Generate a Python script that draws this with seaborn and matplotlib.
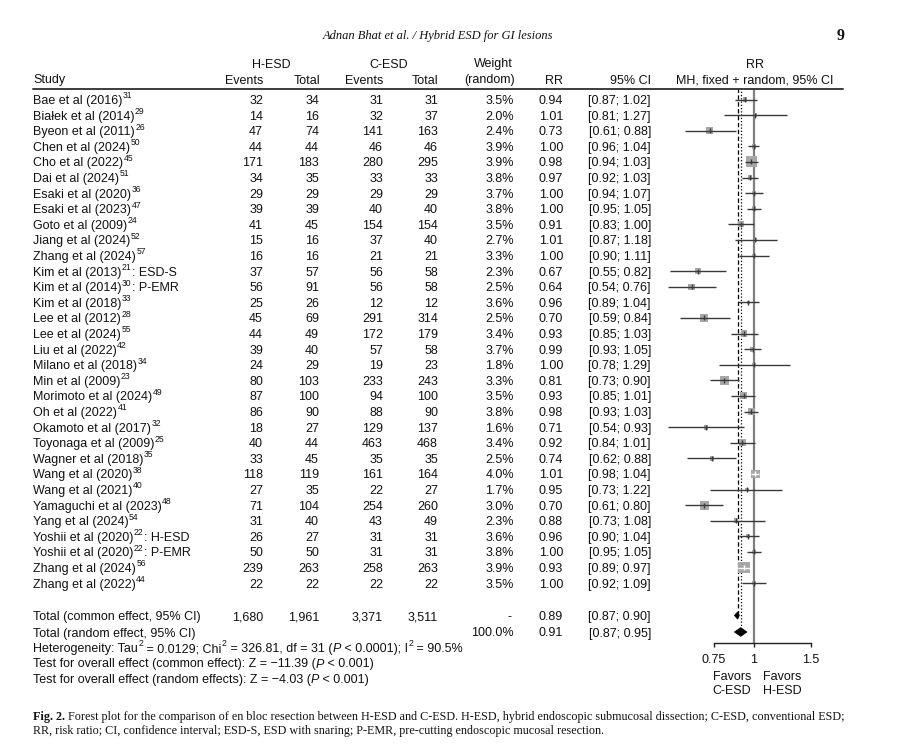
import numpy as np
import pandas as pd
import matplotlib
matplotlib.use("Agg")
import matplotlib.pyplot as plt
import seaborn as sns
from matplotlib.lines import Line2D
from matplotlib.patches import Polygon
from matplotlib.ticker import NullLocator, FixedLocator, FixedFormatter

# ---------------- data ----------------
studies = ["Bae et al (2016)", "Białek et al (2014)", "Byeon et al (2011)", "Chen et al (2024)",
           "Cho et al (2022)", "Dai et al (2024)", "Esaki et al (2020)", "Esaki et al (2023)",
           "Goto et al (2009)", "Jiang et al (2024)", "Zhang et al (2024)", "Kim et al (2013)",
           "Kim et al (2014)", "Kim et al (2018)", "Lee et al (2012)", "Lee et al (2024)",
           "Liu et al (2022)", "Milano et al (2018)", "Min et al (2009)", "Morimoto et al (2024)",
           "Oh et al (2022)", "Okamoto et al (2017)", "Toyonaga et al (2009)", "Wagner et al (2018)",
           "Wang et al (2020)", "Wang et al (2021)", "Yamaguchi et al (2023)", "Yang et al (2024)",
           "Yoshii et al (2020)", "Yoshii et al (2020)", "Zhang et al (2024)", "Zhang et al (2022)"]
refs = [31, 29, 26, 50, 45, 51, 36, 47, 24, 52, 57, 21, 30, 33, 28, 55, 42, 34, 23, 49, 41, 32,
        25, 35, 38, 40, 48, 54, 22, 22, 56, 44]
suffixes = [""] * 11 + [": ESD-S", ": P-EMR"] + [""] * 15 + [": H-ESD", ": P-EMR", "", ""]
h_events = [32, 14, 47, 44, 171, 34, 29, 39, 41, 15, 16, 37, 56, 25, 45, 44, 39, 24, 80, 87, 86,
            18, 40, 33, 118, 27, 71, 31, 26, 50, 239, 22]
h_total = [34, 16, 74, 44, 183, 35, 29, 39, 45, 16, 16, 57, 91, 26, 69, 49, 40, 29, 103, 100, 90,
           27, 44, 45, 119, 35, 104, 40, 27, 50, 263, 22]
c_events = [31, 32, 141, 46, 280, 33, 29, 40, 154, 37, 21, 56, 56, 12, 291, 172, 57, 19, 233, 94,
            88, 129, 463, 35, 161, 22, 254, 43, 31, 31, 258, 22]
c_total = [31, 37, 163, 46, 295, 33, 29, 40, 154, 40, 21, 58, 58, 12, 314, 179, 58, 23, 243, 100,
           90, 137, 468, 35, 164, 27, 260, 49, 31, 31, 263, 22]
weight_random = [3.5, 2.0, 2.4, 3.9, 3.9, 3.8, 3.7, 3.8, 3.5, 2.7, 3.3, 2.3, 2.5, 3.6, 2.5, 3.4,
                 3.7, 1.8, 3.3, 3.5, 3.8, 1.6, 3.4, 2.5, 4.0, 1.7, 3.0, 2.3, 3.6, 3.8, 3.9, 3.5]
rr = [0.94, 1.01, 0.73, 1.00, 0.98, 0.97, 1.00, 1.00, 0.91, 1.01, 1.00, 0.67, 0.64, 0.96, 0.70,
      0.93, 0.99, 1.00, 0.81, 0.93, 0.98, 0.71, 0.92, 0.74, 1.01, 0.95, 0.70, 0.88, 0.96, 1.00,
      0.93, 1.00]
ci_lo = [0.87, 0.81, 0.61, 0.96, 0.94, 0.92, 0.94, 0.95, 0.83, 0.87, 0.90, 0.55, 0.54, 0.89, 0.59,
         0.85, 0.93, 0.78, 0.73, 0.85, 0.93, 0.54, 0.84, 0.62, 0.98, 0.73, 0.61, 0.73, 0.90, 0.95,
         0.89, 0.92]
ci_hi = [1.02, 1.27, 0.88, 1.04, 1.03, 1.03, 1.07, 1.05, 1.00, 1.18, 1.11, 0.82, 0.76, 1.04, 0.84,
         1.03, 1.05, 1.29, 0.90, 1.01, 1.03, 0.93, 1.01, 0.88, 1.04, 1.22, 0.80, 1.08, 1.04, 1.05,
         0.97, 1.09]

total_labels = ["Total (common effect, 95% CI)", "Total (random effect, 95% CI)"]
total_h_events = 1680
total_h_total = 1961
total_c_events = 3371
total_c_total = 3511
total_rr = [0.89, 0.91]
total_lo = [0.87, 0.87]
total_hi = [0.90, 0.95]

axis_ticks = [0.75, 1, 1.5]
axis_tick_labels = ["0.75", "1", "1.5"]

# ---------------- setup ----------------
sns.set_style("white")
plt.rcParams['font.family'] = ['Liberation Sans', 'DejaVu Sans']

W, H = 900, 750
fig = plt.figure(figsize=(9, 7.5), dpi=100)
fig.patch.set_facecolor("white")
renderer = fig.canvas.get_renderer()


def fx(x):
    return x / W


def fy(y):
    return 1 - y / H


def put(x, y, s, ha='left', size=9, **kw):
    return fig.text(fx(x), fy(y), s, ha=ha, va='baseline', fontsize=size, **kw)


TXT = "#111111"


def seq(x, y, segs, size=9):
    """Draw left-aligned runs of text: kind 'n' normal, 'i' italic, 's' superscript."""
    for s, kind in segs:
        if kind == 's':
            t = put(x + 0.5, y - 5.6, s, size=6.2, color=TXT)
        elif kind == 'i':
            t = put(x, y, s, size=size, style='italic', color=TXT)
        else:
            t = put(x, y, s, size=size, color=TXT)
        x = t.get_window_extent(renderer).x1
    return x


n = len(studies)
row0, dy = 99.5, 15.6
ys = row0 + dy * np.arange(n)
BL = 4.5  # baseline offset from visual centre

# column right edges
c_he, c_ht, c_ce, c_ct, c_w, c_rr, c_ci = 263, 319, 383, 438, 514, 563, 651

# ---------------- headers ----------------
put(438, 39, "Adnan Bhat et al. / Hybrid ESD for GI lesions", ha='center', size=9,
    family='Liberation Serif', style='italic', color=TXT)
put(845, 40, "9", ha='right', size=11.5, family='Liberation Serif', weight='bold', color=TXT)

hy1, hy2 = 63 + BL, 79 + BL
put(271, hy1, "H-ESD", ha='center', color=TXT)
put(389, hy1, "C-ESD", ha='center', color=TXT)
put(c_w - 1, hy1, "Weight", ha='right', color=TXT)
put(755, hy1, "RR", ha='center', color=TXT)
put(33, hy2, "Study", color=TXT)
put(c_he, hy2, "Events", ha='right', color=TXT)
put(c_ht + 1, hy2, "Total", ha='right', color=TXT)
put(c_ce, hy2, "Events", ha='right', color=TXT)
put(c_ct, hy2, "Total", ha='right', color=TXT)
put(c_w + 1, hy2, "(random)", ha='right', color=TXT)
put(c_rr, hy2, "RR", ha='right', color=TXT)
put(c_ci, hy2, "95% CI", ha='right', color=TXT)
put(755, hy2, "MH, fixed + random, 95% CI", ha='center', color=TXT)
fig.add_artist(Line2D([fx(33), fx(843)], [fy(88.5), fy(88.5)], transform=fig.transFigure,
                      color="#3c3c3c", lw=1.4))

# ---------------- study rows ----------------
for i in range(n):
    yb = ys[i] + BL
    segs = [(studies[i], 'n'), (str(refs[i]), 's')]
    if suffixes[i]:
        segs.append((suffixes[i], 'n'))
    seq(33, yb, segs)
    put(c_he, yb, str(h_events[i]), ha='right', color=TXT)
    put(c_ht, yb, str(h_total[i]), ha='right', color=TXT)
    put(c_ce, yb, str(c_events[i]), ha='right', color=TXT)
    put(c_ct, yb, str(c_total[i]), ha='right', color=TXT)
    put(c_w, yb, f"{weight_random[i]:.1f}%", ha='right', color=TXT)
    put(c_rr, yb, f"{rr[i]:.2f}", ha='right', color=TXT)
    put(c_ci, yb, f"[{ci_lo[i]:.2f}; {ci_hi[i]:.2f}]", ha='right', color=TXT)

# ---------------- totals & footer text ----------------
ty1, ty2 = 615.5, 632
put(33, ty1 + BL, total_labels[0], color=TXT)
put(c_he, ty1 + BL, f"{total_h_events:,}", ha='right', color=TXT)
put(c_ht, ty1 + BL, f"{total_h_total:,}", ha='right', color=TXT)
put(c_ce, ty1 + BL, f"{total_c_events:,}", ha='right', color=TXT)
put(c_ct, ty1 + BL, f"{total_c_total:,}", ha='right', color=TXT)
put(c_w - 2, ty1 + BL, "-", ha='right', color=TXT)
put(c_rr, ty1 + BL, f"{total_rr[0]:.2f}", ha='right', color=TXT)
put(c_ci, ty1 + BL, f"[{total_lo[0]:.2f}; {total_hi[0]:.2f}]", ha='right', color=TXT)
put(33, ty2 + BL, total_labels[1], color=TXT)
put(c_w, ty2 + BL, "100.0%", ha='right', color=TXT)
put(c_rr, ty2 + BL, f"{total_rr[1]:.2f}", ha='right', color=TXT)
put(c_ci, ty2 + BL, f"[{total_lo[1]:.2f}; {total_hi[1]:.2f}]", ha='right', color=TXT)

seq(33, 647.5 + BL, [("Heterogeneity: Tau", 'n'), ("2", 's'), (" = 0.0129; Chi", 'n'), ("2", 's'),
                     (" = 326.81, df = 31 (", 'n'), ("P", 'i'), (" < 0.0001); I", 'n'), ("2", 's'),
                     (" = 90.5%", 'n')])
seq(33, 663 + BL, [("Test for overall effect (common effect): Z = \u221211.39 (", 'n'), ("P", 'i'),
                   (" < 0.001)", 'n')])
seq(33, 678.5 + BL, [("Test for overall effect (random effects): Z = \u22124.03 (", 'n'), ("P", 'i'),
                     (" < 0.001)", 'n')])

put(732, 675 + BL, "Favors", ha='center', color=TXT)
put(782, 675 + BL, "Favors", ha='center', color=TXT)
put(732, 690 + BL, "C-ESD", ha='center', color=TXT)
put(782, 690 + BL, "H-ESD", ha='center', color=TXT)

# ---------------- forest panel ----------------
PXU = 140.0  # pixels per unit of ln(RR)
ax = fig.add_axes([fx(660), fy(643), 190 / W, (643 - 88) / H])
ax.set_xscale('log')

mh_w = np.array(c_events) * np.array(h_total) / (np.array(h_total) + np.array(c_total))
df = pd.DataFrame(dict(rr=rr, y=ys, w=mh_w, lo=ci_lo, hi=ci_hi))
k_area = (1.05 / (100 / 72)) ** 2
wmin, wmax = df.w.min(), df.w.max()
sns.scatterplot(data=df, x='rr', y='y', size='w', sizes=(k_area * wmin, k_area * wmax),
                size_norm=(wmin, wmax), marker='s', color='#a8a8a8', linewidth=0,
                legend=False, ax=ax, zorder=2)

sq_px = 1.05 * np.sqrt(df.w.values)
ci_px = (np.log(df.hi.values) - np.log(df.lo.values)) * PXU
line_cols = ['white' if s >= 0.95 * c else '#3a3a3a' for s, c in zip(sq_px, ci_px)]
ax.hlines(df.y, df.lo, df.hi, colors=line_cols, lw=1.0, zorder=3)
ax.scatter(df.rr, df.y, marker='|', s=12, c=line_cols, linewidths=1.0, zorder=4)

# reference lines
ax.axvline(1, color='#7f7f7f', lw=1.6, zorder=1)
ax.vlines(total_rr[0], 88, ty1, colors='black', lw=0.9, linestyles=(0, (3.5, 2)), zorder=1)
ax.vlines(total_rr[1], 88, ty2, colors='black', lw=0.9, linestyles=(0, (1, 1.6)), zorder=1)

# diamonds
for est, lo, hi, yy, hh in zip(total_rr, total_lo, total_hi, [ty1, ty2], [3.6, 4.3]):
    ax.add_patch(Polygon([(lo, yy), (est, yy - hh), (hi, yy), (est, yy + hh)], closed=True,
                         facecolor='black', edgecolor='black', lw=0.6, zorder=5))

ax.set_xlim(np.exp(-94 / PXU), np.exp(96 / PXU))
ax.set_ylim(643, 88)
ax.set_xlabel("")
ax.set_ylabel("")
ax.set_yticks([])
for sp in ['left', 'top', 'right']:
    ax.spines[sp].set_visible(False)
ax.spines['bottom'].set_bounds(axis_ticks[0], axis_ticks[-1])
ax.spines['bottom'].set_color('#222222')
ax.spines['bottom'].set_linewidth(1.0)
ax.xaxis.set_major_locator(FixedLocator(axis_ticks))
ax.xaxis.set_major_formatter(FixedFormatter(axis_tick_labels))
ax.xaxis.set_minor_locator(NullLocator())
ax.tick_params(axis='x', which='major', bottom=True, direction='out', length=3.2, width=1.0,
               pad=5, labelsize=9, color='#222222', labelcolor=TXT)
ax.patch.set_alpha(0)

# ---------------- caption ----------------
CAP = 8.7
cap_b = put(33, 720, "Fig. 2.", size=CAP, family='Liberation Serif', weight='bold', color=TXT)
bb = cap_b.get_window_extent(renderer)
put(bb.x1 + 3, 720, "Forest plot for the comparison of en bloc resection between H-ESD and C-ESD. "
    "H-ESD, hybrid endoscopic submucosal dissection; C-ESD, conventional ESD;",
    size=CAP, family='Liberation Serif', color=TXT)
put(33, 734, "RR, risk ratio; CI, confidence interval; ESD-S, ESD with snaring; P-EMR, pre-cutting "
    "endoscopic mucosal resection.", size=CAP, family='Liberation Serif', color=TXT)

fig.savefig("out.png", dpi=100, facecolor='white')
